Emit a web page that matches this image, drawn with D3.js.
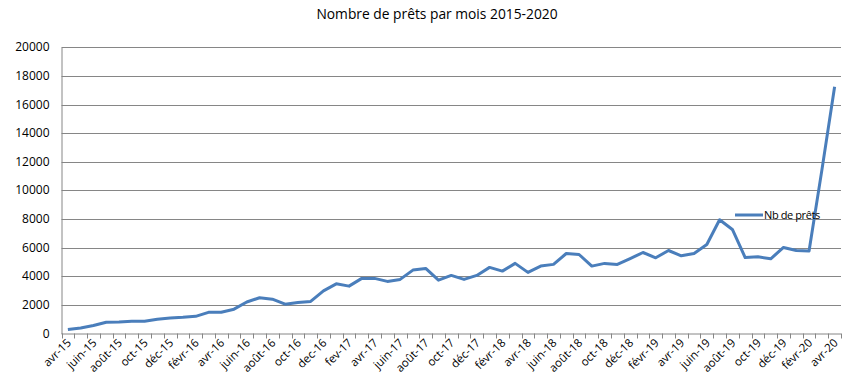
<!DOCTYPE html>
<html><head><meta charset="utf-8">
<script src="https://cdn.jsdelivr.net/npm/d3@7"></script>
<style>body{margin:0;background:#fff}svg{display:block}</style>
</head><body><svg id="c" width="865" height="383"></svg>
<script>
const months = ["avr-15","mai-15","juin-15","juil-15","août-15","sept-15","oct-15","nov-15","déc-15","janv-16",
"févr-16","mars-16","avr-16","mai-16","juin-16","juil-16","août-16","sept-16","oct-16","nov-16",
"dec-16","janv-17","fev-17","mars-17","avr-17","mai-17","juin-17","juil-17","août-17","sept-17",
"oct-17","nov-17","déc-17","janv-18","févr-18","mars-18","avr-18","mai-18","juin-18","juil-18",
"août-18","sept-18","oct-18","nov-18","déc-18","janv-19","févr-19","mars-19","avr-19","mai-19",
"juin-19","juil-19","août-19","sept-19","oct-19","nov-19","déc-19","janv-20","févr-20","mars-20","avr-20"];
const prets = [280,390,560,790,800,850,860,1000,1080,1130,
1200,1480,1480,1700,2200,2500,2400,2050,2160,2240,
2980,3470,3310,3850,3850,3640,3780,4430,4550,3730,
4060,3780,4060,4620,4360,4900,4270,4710,4830,5590,
5520,4710,4900,4830,5240,5660,5290,5800,5430,5590,
6220,7950,7270,5310,5360,5220,6010,5800,5760,11400,17250];
const yTicks = [0,2000,4000,6000,8000,10000,12000,14000,16000,18000,20000];
const seriesName = "Nb de prêts";
const title = "Nombre de prêts par mois 2015-2020";

const svg = d3.select("#c");
const L = 61.5, R = 841, T = 47.3, B = 333.5;
const x = d3.scaleBand().domain(months).range([L, R]);
const y = d3.scaleLinear().domain([0, 20000]).range([B, T]);
const font = "'Open Sans', 'Liberation Sans', sans-serif";

svg.append("text").attr("x", 437).attr("y", 19).attr("text-anchor", "middle")
  .attr("font-family", font).attr("font-size", 13.8).attr("fill", "#000").text(title);

// gridlines
svg.append("g").selectAll("line").data(yTicks.filter(d => d > 0)).join("line")
  .attr("x1", L).attr("x2", R).attr("y1", d => Math.round(y(d)) + 0.5).attr("y2", d => Math.round(y(d)) + 0.5)
  .attr("stroke", "#868686").attr("stroke-width", 1);

// y axis
const ya = svg.append("g").attr("transform", `translate(${L},0)`)
  .call(d3.axisLeft(y).tickValues(yTicks).tickSize(0).tickPadding(12).tickFormat(d3.format("d")));
ya.select(".domain").attr("stroke", "#868686");
ya.selectAll("text").attr("font-family", font).attr("font-size", 12).attr("fill", "#000");
ya.selectAll(".tick").attr("transform", d => `translate(0,${Math.round(y(d)) + 0.5})`);

// x axis
const xg = svg.append("g");
xg.append("line").attr("x1", L).attr("x2", R).attr("y1", B + 0.5).attr("y2", B + 0.5).attr("stroke", "#868686");
const bounds = months.map(m => x(m)).concat([R]);
xg.selectAll("line.t").data(bounds).join("line").attr("class", "t")
  .attr("x1", d => Math.round(d) + 0.5).attr("x2", d => Math.round(d) + 0.5)
  .attr("y1", B).attr("y2", B + 5).attr("stroke", "#868686");
xg.selectAll("text").data(months.filter((m, i) => i % 2 === 0)).join("text")
  .attr("text-anchor", "end")
  .attr("transform", d => `translate(${x(d) + x.bandwidth() / 2 + 4},${B + 10}) rotate(-45)`)
  .attr("font-family", font).attr("font-size", 11.5).attr("fill", "#000").text(d => d);

// line
const line = d3.line().x((d, i) => x(months[i]) + x.bandwidth() / 2).y(d => y(d));
svg.append("path").datum(prets).attr("d", line).attr("fill", "none")
  .attr("stroke", "#4a7ebb").attr("stroke-width", 3).attr("stroke-linejoin", "round");

// legend
svg.append("line").attr("x1", 735).attr("x2", 763).attr("y1", 215).attr("y2", 215)
  .attr("stroke", "#4a7ebb").attr("stroke-width", 3);
svg.append("text").attr("x", 764).attr("y", 219).attr("font-family", font).attr("font-size", 11)
  .attr("letter-spacing", -0.4).attr("fill", "#000").text(seriesName);
</script></body></html>
